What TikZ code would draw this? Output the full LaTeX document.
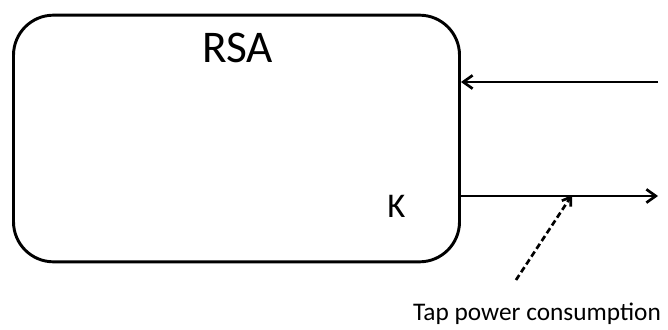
\documentclass[tikz,border=0pt]{standalone}
\usepackage{fontspec}
\setmainfont{Carlito}
\usetikzlibrary{arrows.meta,calc}
\tikzset{
  block/.style={draw,line width=2.2pt,rounded corners=30pt,minimum width=334.5pt,minimum height=185pt,inner sep=0pt},
  flow/.style={-{Straight Barb[length=7pt,width=10pt]},line width=2pt},
  tapline/.style={-{Straight Barb[length=6pt,width=8pt]},line width=2pt,dash pattern=on 4.5pt off 2.5pt},
  lbl/.style={inner sep=0pt,anchor=base}
}
\begin{document}
\begin{tikzpicture}[x=0.75pt,y=0.75pt]
    \useasboundingbox (0,0) rectangle (668,329);
    \node[block] (rsa) at (236.5,190.5) {};
    \node[lbl,font=\fontsize{34}{40}\selectfont] (title) at (237.5,266) {RSA};
    \node[lbl,font=\fontsize{26}{30}\selectfont] (key) at (396.5,112) {K};
    \node[lbl,font=\fontsize{19}{23}\selectfont] (tap) at (537,9) {Tap power consumption};
    \coordinate (in) at (658,247);
    \coordinate (out) at (658,133);
    \coordinate (tapstart) at (516,49);
    \coordinate (tapend) at (572,134);
    \draw[flow] (in) -- (in -| rsa.east);
    \draw[flow] (out -| rsa.east) -- (out);
    \draw[tapline] (tapstart) -- (tapend);
  \end{tikzpicture}
\end{document}
